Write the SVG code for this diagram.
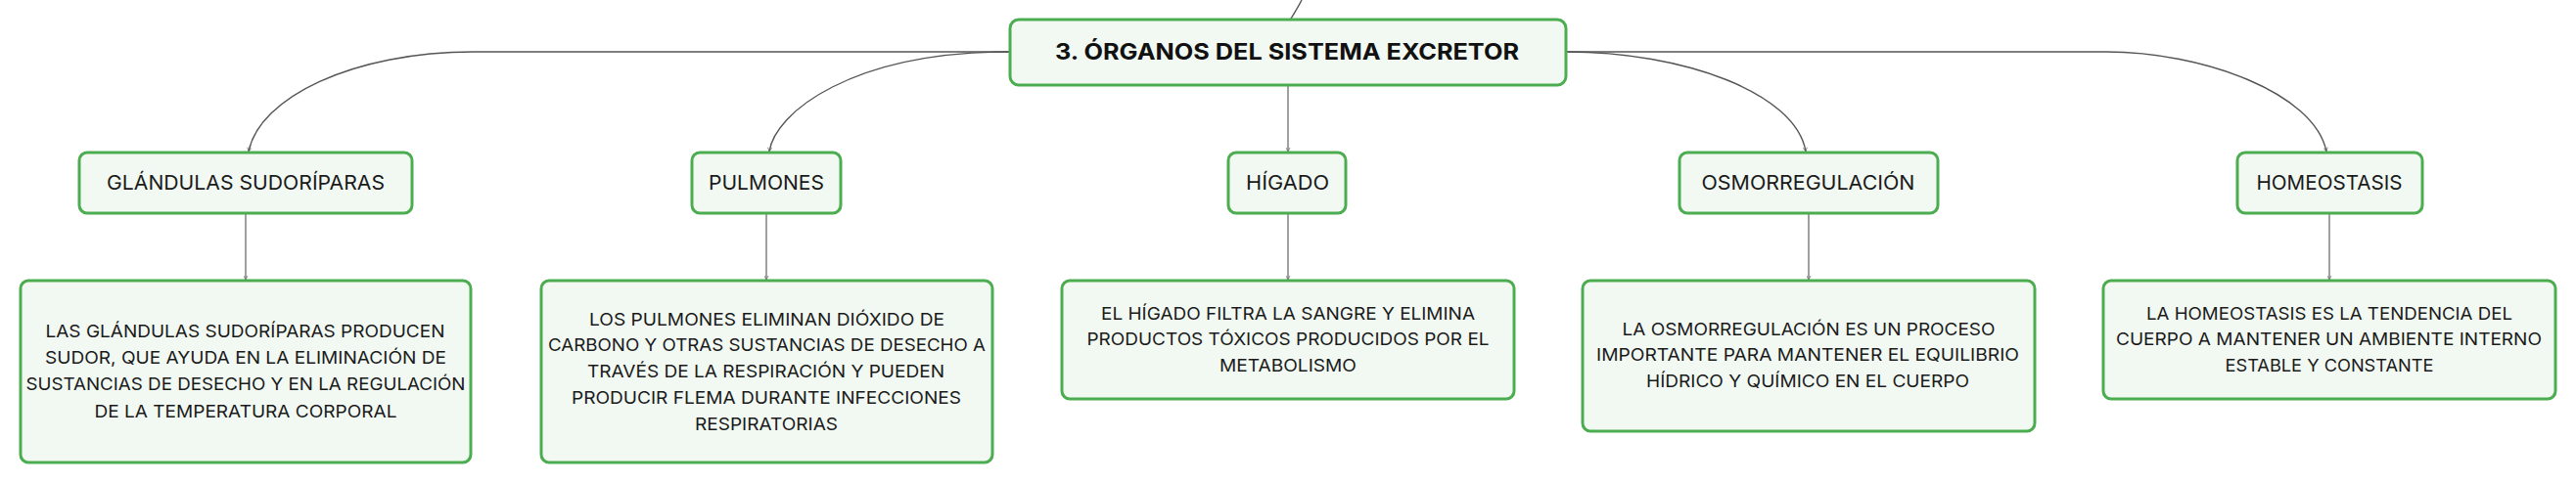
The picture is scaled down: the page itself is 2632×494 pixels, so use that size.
<svg xmlns="http://www.w3.org/2000/svg" width="2632" height="494" viewBox="0 0 2632 494">
<defs>
<marker id="arr" viewBox="0 0 10 10" refX="9" refY="5" markerWidth="5" markerHeight="5" orient="auto" markerUnits="userSpaceOnUse">
<path d="M1,1 L9,5 L1,9" fill="none" stroke="#666" stroke-width="1.5"/>
</marker>
<style>
.box{fill:#f2f9f3;stroke:#4cad50;stroke-width:3}
.t{font-family:Inter,"Open Sans","Liberation Sans",sans-serif;fill:#1a1a1a;text-anchor:middle}
.title{font-size:23px;font-weight:700;fill:#111}
.mid{font-size:20px}
.det{font-size:17.5px}
.c{fill:none;stroke:#555;stroke-width:1.4}
.v{fill:none;stroke:#777;stroke-width:1.4}
</style>
</defs>
<rect width="2632" height="494" fill="#ffffff"/>
<g id="connectors">
<path class="c" d="M1330,0 C1326,8 1322,14 1319,19"/>
<path class="c" d="M1032,53 L484,53 C360,53 265,100 254,155" marker-end="url(#arr)"/>
<path class="c" d="M1032,53 C870,53 792,115 786,155" marker-end="url(#arr)"/>
<path class="v" d="M1316,87 L1316,155" marker-end="url(#arr)"/>
<path class="c" d="M1600,53 C1720,53 1835,95 1845,155" marker-end="url(#arr)"/>
<path class="c" d="M1600,53 L2152,53 C2250,53 2365,95 2377,155" marker-end="url(#arr)"/>
<path class="v" d="M251,218 L251,286" marker-end="url(#arr)"/>
<path class="v" d="M783,218 L783,286" marker-end="url(#arr)"/>
<path class="v" d="M1316,218 L1316,286" marker-end="url(#arr)"/>
<path class="v" d="M1848,218 L1848,286" marker-end="url(#arr)"/>
<path class="v" d="M2380,218 L2380,286" marker-end="url(#arr)"/>
</g>
<g id="n-root">
<rect class="box" x="1032" y="20" width="568" height="67" rx="9"/>
<text class="t title" x="1315" y="61" textLength="474" lengthAdjust="spacingAndGlyphs">3. ÓRGANOS DEL SISTEMA EXCRETOR</text>
</g>
<g id="n-glandulas">
<rect class="box" x="81" y="156" width="340" height="62" rx="8"/>
<text class="t mid" x="251" y="194" textLength="284" lengthAdjust="spacingAndGlyphs">GLÁNDULAS SUDORÍPARAS</text>
</g>
<g id="n-pulmones">
<rect class="box" x="707" y="156" width="152" height="62" rx="8"/>
<text class="t mid" x="783" y="194" textLength="118" lengthAdjust="spacingAndGlyphs">PULMONES</text>
</g>
<g id="n-higado">
<rect class="box" x="1255" y="156" width="120" height="62" rx="8"/>
<text class="t mid" x="1315.5" y="194" textLength="85" lengthAdjust="spacingAndGlyphs">HÍGADO</text>
</g>
<g id="n-osmo">
<rect class="box" x="1716" y="156" width="264" height="62" rx="8"/>
<text class="t mid" x="1847.5" y="194" textLength="218" lengthAdjust="spacingAndGlyphs">OSMORREGULACIÓN</text>
</g>
<g id="n-homeo">
<rect class="box" x="2286" y="156" width="189" height="62" rx="8"/>
<text class="t mid" x="2380" y="194" textLength="149" lengthAdjust="spacingAndGlyphs">HOMEOSTASIS</text>
</g>
<g id="d-glandulas">
<rect class="box" x="21" y="287" width="460" height="186" rx="8"/>
<text class="t det" x="250.5" y="344.5" textLength="408" lengthAdjust="spacingAndGlyphs">LAS GLÁNDULAS SUDORÍPARAS PRODUCEN</text>
<text class="t det" x="251" y="372" textLength="410" lengthAdjust="spacingAndGlyphs">SUDOR, QUE AYUDA EN LA ELIMINACIÓN DE</text>
<text class="t det" x="251" y="399" textLength="449" lengthAdjust="spacingAndGlyphs">SUSTANCIAS DE DESECHO Y EN LA REGULACIÓN</text>
<text class="t det" x="251" y="426.5" textLength="309" lengthAdjust="spacingAndGlyphs">DE LA TEMPERATURA CORPORAL</text>
</g>
<g id="d-pulmones">
<rect class="box" x="553" y="287" width="461" height="186" rx="8"/>
<text class="t det" x="783.5" y="332.5" textLength="363" lengthAdjust="spacingAndGlyphs">LOS PULMONES ELIMINAN DIÓXIDO DE</text>
<text class="t det" x="783.5" y="359" textLength="447" lengthAdjust="spacingAndGlyphs">CARBONO Y OTRAS SUSTANCIAS DE DESECHO A</text>
<text class="t det" x="782.5" y="385.5" textLength="365" lengthAdjust="spacingAndGlyphs">TRAVÉS DE LA RESPIRACIÓN Y PUEDEN</text>
<text class="t det" x="783" y="413" textLength="398" lengthAdjust="spacingAndGlyphs">PRODUCIR FLEMA DURANTE INFECCIONES</text>
<text class="t det" x="783" y="439.5" textLength="146" lengthAdjust="spacingAndGlyphs">RESPIRATORIAS</text>
</g>
<g id="d-higado">
<rect class="box" x="1085" y="287" width="462" height="121" rx="8"/>
<text class="t det" x="1316" y="326.5" textLength="382" lengthAdjust="spacingAndGlyphs">EL HÍGADO FILTRA LA SANGRE Y ELIMINA</text>
<text class="t det" x="1316" y="353" textLength="411" lengthAdjust="spacingAndGlyphs">PRODUCTOS TÓXICOS PRODUCIDOS POR EL</text>
<text class="t det" x="1316" y="379.5" textLength="140" lengthAdjust="spacingAndGlyphs">METABOLISMO</text>
</g>
<g id="d-osmo">
<rect class="box" x="1617" y="287" width="462" height="154" rx="8"/>
<text class="t det" x="1848" y="342.5" textLength="381" lengthAdjust="spacingAndGlyphs">LA OSMORREGULACIÓN ES UN PROCESO</text>
<text class="t det" x="1847" y="369" textLength="432" lengthAdjust="spacingAndGlyphs">IMPORTANTE PARA MANTENER EL EQUILIBRIO</text>
<text class="t det" x="1847" y="395.5" textLength="330" lengthAdjust="spacingAndGlyphs">HÍDRICO Y QUÍMICO EN EL CUERPO</text>
</g>
<g id="d-homeo">
<rect class="box" x="2149" y="287" width="462" height="121" rx="8"/>
<text class="t det" x="2380" y="326.5" textLength="374" lengthAdjust="spacingAndGlyphs">LA HOMEOSTASIS ES LA TENDENCIA DEL</text>
<text class="t det" x="2379.5" y="353" textLength="435" lengthAdjust="spacingAndGlyphs">CUERPO A MANTENER UN AMBIENTE INTERNO</text>
<text class="t det" x="2380" y="379.5" textLength="213" lengthAdjust="spacingAndGlyphs">ESTABLE Y CONSTANTE</text>
</g>
</svg>
